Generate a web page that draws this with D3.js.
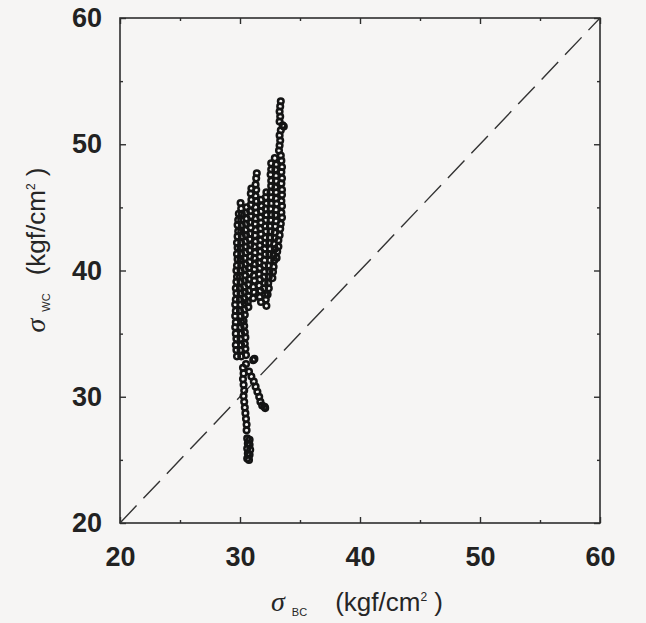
<!DOCTYPE html>
<html>
<head>
<meta charset="utf-8">
<script src="https://cdn.jsdelivr.net/npm/d3@7"></script>
<style>
	html, body { margin: 0; padding: 0; background: #f6f5f4; }
	svg { display: block; }
	.tick-label { font-family: "Liberation Sans", Arial, sans-serif; font-weight: bold; fill: #222; }
	.axis-title { font-family: "Liberation Sans", Arial, sans-serif; fill: #262626; }
</style>
</head>
<body>
<script>

	// ejes
	const majorTicks = [20, 30, 40, 50, 60];
	const minorTicks = [25, 35, 45, 55];
	const diagonal = [[20, 20], [60, 60]];

	// puntos [sigma BC, sigma WC], por zonas de la nube
	const topStalk = [
		[33.4, 53.4], [33.35, 53.0], [33.3, 52.6], [33.35, 52.2], [33.3, 51.8], [33.55, 51.5],
		[33.65, 51.4], [33.4, 51.1], [33.3, 50.7], [33.35, 50.3], [33.3, 49.9], [33.25, 49.5]
	];

	const rightBody = [
		[33.4, 49.1], [33.45, 48.7], [33.5, 48.2], [33.45, 47.8], [33.5, 47.3], [33.45, 46.9],
		[33.5, 46.4], [33.5, 46.0], [33.45, 45.5], [33.5, 45.1], [33.45, 44.6], [33.5, 44.2],
		[33.4, 43.7], [33.35, 43.3], [33.3, 42.8], [33.2, 42.4], [33.2, 41.9], [33.1, 41.5], [33.05, 41.0],
		[32.9, 48.9], [33.0, 48.4], [32.95, 48.0], [33.0, 47.5], [33.0, 47.1], [32.95, 46.6],
		[33.0, 46.2], [33.0, 45.7], [33.05, 45.3], [33.0, 44.8], [32.95, 44.4], [33.0, 43.9],
		[32.95, 43.5], [32.9, 43.0], [32.9, 42.6], [32.85, 42.1], [32.9, 41.7], [32.8, 41.2],
		[32.85, 40.8], [32.8, 40.3], [32.75, 39.9], [32.7, 39.4],
		[32.6, 48.5], [32.6, 48.0], [32.55, 47.6], [32.6, 47.1], [32.6, 46.7], [32.55, 46.2],
		[32.6, 45.8], [32.6, 45.3], [32.55, 44.9], [32.6, 44.4], [32.55, 44.0], [32.5, 43.5],
		[32.55, 43.1], [32.5, 42.6], [32.45, 42.2], [32.5, 41.7], [32.45, 41.3], [32.5, 40.8],
		[32.4, 40.4], [32.45, 39.9], [32.4, 39.5], [32.35, 39.0], [32.4, 38.6], [32.3, 38.1],
		[32.2, 46.2], [32.15, 45.8], [32.2, 45.3], [32.15, 44.9], [32.2, 44.4], [32.15, 44.0],
		[32.1, 43.5], [32.15, 43.1], [32.1, 42.6], [32.1, 42.2], [32.05, 41.7], [32.1, 41.3],
		[32.05, 40.8], [32.0, 40.4], [32.05, 39.9], [32.0, 39.5], [32.05, 39.0], [32.0, 38.6],
		[32.1, 38.1], [32.15, 37.7], [32.2, 37.2]
	];

	const middleBody = [
		[31.75, 45.6], [31.8, 45.1], [31.75, 44.7], [31.7, 44.2], [31.75, 43.8], [31.7, 43.3],
		[31.75, 42.9], [31.7, 42.4], [31.65, 42.0], [31.7, 41.5], [31.65, 41.1], [31.6, 40.6],
		[31.65, 40.2], [31.6, 39.7], [31.65, 39.3], [31.6, 38.8], [31.7, 38.4], [31.65, 37.9], [31.75, 37.5],
		[31.4, 47.7], [31.35, 47.3], [31.3, 46.8], [31.35, 46.4], [31.3, 45.9], [31.35, 45.5],
		[31.3, 45.0], [31.35, 44.6], [31.3, 44.1], [31.25, 43.7], [31.3, 43.2], [31.25, 42.8],
		[31.3, 42.3], [31.2, 41.9], [31.25, 41.4], [31.2, 41.0], [31.25, 40.5], [31.2, 40.1],
		[31.15, 39.6], [31.2, 39.2], [31.1, 38.7], [31.15, 38.3], [31.1, 37.8],
		[30.95, 46.5], [30.9, 46.1], [30.95, 45.6], [30.9, 45.2], [30.85, 44.7], [30.9, 44.3],
		[30.85, 43.8], [30.9, 43.4], [30.85, 42.9], [30.8, 42.5], [30.85, 42.0], [30.8, 41.6],
		[30.85, 41.1], [30.8, 40.7], [30.75, 40.2], [30.8, 39.8], [30.75, 39.3], [30.7, 38.9],
		[30.75, 38.4], [30.7, 38.0], [30.65, 37.5], [30.7, 37.1]
	];

	const leftBody = [
		[30.55, 45.0], [30.5, 44.6], [30.55, 44.1], [30.5, 43.7], [30.45, 43.2], [30.5, 42.8],
		[30.45, 42.3], [30.5, 41.9], [30.45, 41.4], [30.4, 41.0], [30.45, 40.5], [30.4, 40.1],
		[30.45, 39.6], [30.4, 39.2], [30.35, 38.7], [30.4, 38.3], [30.35, 37.8], [30.4, 37.4],
		[30.35, 36.9], [30.4, 36.5], [30.3, 36.0], [30.35, 35.6], [30.4, 35.1], [30.45, 34.7],
		[30.4, 34.2], [30.45, 33.8], [30.5, 33.3],
		[30.05, 45.35], [30.1, 44.9], [30.15, 44.5], [30.1, 44.0], [30.15, 43.6], [30.1, 43.1],
		[30.15, 42.7], [30.1, 42.2], [30.05, 41.8], [30.1, 41.3], [30.05, 40.9], [30.1, 40.4],
		[30.05, 40.0], [30.0, 39.5], [30.05, 39.1], [30.0, 38.6], [30.05, 38.2], [30.0, 37.7],
		[30.05, 37.3], [30.0, 36.8], [30.05, 36.4], [30.1, 35.9], [30.05, 35.5], [30.1, 35.0],
		[30.05, 34.6], [30.1, 34.1], [30.05, 33.7], [30.1, 33.2],
		[29.9, 44.5], [29.85, 44.0], [29.8, 43.6], [29.85, 43.1], [29.8, 42.7], [29.75, 42.2],
		[29.8, 41.8], [29.75, 41.3], [29.8, 40.9], [29.75, 40.4], [29.7, 40.0], [29.75, 39.5],
		[29.7, 39.1], [29.65, 38.6], [29.7, 38.2], [29.65, 37.7], [29.6, 37.3], [29.65, 36.8],
		[29.6, 36.4], [29.65, 35.9], [29.6, 35.5], [29.65, 35.0], [29.7, 34.6], [29.65, 34.1],
		[29.7, 33.7], [29.75, 33.2]
	];

	// cola inferior: dos ramas
	const leftStrand = [
		[30.25, 32.3], [30.3, 31.85], [30.25, 31.4], [30.3, 30.95], [30.35, 30.5], [30.3, 30.05],
		[30.35, 29.6], [30.4, 29.15], [30.45, 28.7], [30.5, 28.25], [30.55, 27.8], [30.55, 27.35],
		[30.6, 26.7], [30.65, 26.3], [30.6, 25.9], [30.65, 25.5], [30.6, 25.1],
		[30.8, 26.6], [30.8, 26.2], [30.85, 25.8], [30.8, 25.4], [30.75, 25.0]
	];

	const rightStrand = [
		[31.1, 32.9], [31.2, 33.0], [30.5, 32.6], [30.75, 32.0], [30.95, 31.6], [31.15, 31.2],
		[31.3, 30.8], [31.45, 30.4], [31.6, 30.0], [31.7, 29.6], [31.85, 29.3], [32.05, 29.2], [32.1, 29.1]
	];

	const width = 646,
		height = 623,
		plot = {left: 120, right: 600, top: 18, bottom: 523};

	const svg = d3.select("body").append("svg")
		.attr("width", width)
		.attr("height", height);

	svg.append("rect")
		.attr("width", width)
		.attr("height", height)
		.attr("fill", "#f6f5f4");

	const x = d3.scaleLinear().domain([20, 60]).range([plot.left, plot.right]),
		y = d3.scaleLinear().domain([20, 60]).range([plot.bottom, plot.top]);

	const axisColor = "#2e2e2e";

	// ejes con marcas hacia dentro
	svg.append("g")
		.attr("transform", "translate(0," + plot.bottom + ")")
		.call(d3.axisBottom(x).tickValues(majorTicks).tickSize(-6).tickPadding(24).tickFormat(d3.format("d")));

	svg.append("g")
		.attr("transform", "translate(" + plot.left + ",0)")
		.call(d3.axisLeft(y).tickValues(majorTicks).tickSize(-6).tickPadding(18).tickFormat(d3.format("d")));

	svg.append("g")
		.attr("transform", "translate(0," + plot.top + ")")
		.call(d3.axisTop(x).tickValues(majorTicks).tickSize(-6).tickFormat(""));

	svg.append("g")
		.attr("transform", "translate(" + plot.right + ",0)")
		.call(d3.axisRight(y).tickValues(majorTicks).tickSize(-6).tickFormat(""));

	// marcas menores
	svg.append("g")
		.attr("transform", "translate(0," + plot.bottom + ")")
		.call(d3.axisBottom(x).tickValues(minorTicks).tickSize(-3).tickFormat(""));
	svg.append("g")
		.attr("transform", "translate(0," + plot.top + ")")
		.call(d3.axisTop(x).tickValues(minorTicks).tickSize(-3).tickFormat(""));
	svg.append("g")
		.attr("transform", "translate(" + plot.left + ",0)")
		.call(d3.axisLeft(y).tickValues(minorTicks).tickSize(-3).tickFormat(""));
	svg.append("g")
		.attr("transform", "translate(" + plot.right + ",0)")
		.call(d3.axisRight(y).tickValues(minorTicks).tickSize(-3).tickFormat(""));

	svg.selectAll(".domain").remove();
	svg.selectAll(".tick line")
		.attr("stroke", axisColor)
		.attr("stroke-width", 1.4);

	svg.selectAll(".tick text")
		.attr("class", "tick-label")
		.attr("font-size", 27);

	// marco
	svg.append("rect")
		.attr("x", plot.left)
		.attr("y", plot.top)
		.attr("width", plot.right - plot.left)
		.attr("height", plot.bottom - plot.top)
		.attr("fill", "none")
		.attr("stroke", axisColor)
		.attr("stroke-width", 1.6);

	// recta 1:1
	svg.append("path")
		.datum(diagonal)
		.attr("d", d3.line().x(function(d) { return x(d[0]); }).y(function(d) { return y(d[1]); }))
		.attr("fill", "none")
		.attr("stroke", "#333")
		.attr("stroke-width", 1.4)
		.attr("stroke-dasharray", "24,10");

	const points = [].concat(topStalk, rightBody, middleBody, leftBody, leftStrand, rightStrand);

	svg.append("g")
		.selectAll("circle")
		.data(points)
		.enter().append("circle")
			.attr("cx", function(d) { return x(d[0]); })
			.attr("cy", function(d) { return y(d[1]); })
			.attr("r", 2.8)
			.attr("fill", "none")
			.attr("stroke", "#141414")
			.attr("stroke-width", 2.5);

	// títulos de ejes
	const xTitle = svg.append("text")
		.attr("class", "axis-title")
		.attr("x", 357)
		.attr("y", 611)
		.attr("text-anchor", "middle")
		.attr("font-size", 26);
	xTitle.append("tspan").attr("font-family", "Liberation Serif, serif").attr("font-style", "italic").attr("font-size", 28).text("σ");
	xTitle.append("tspan").attr("font-size", 11).attr("dx", 7).attr("dy", 5).text("BC");
	xTitle.append("tspan").attr("dx", 28).attr("dy", -5).text("(kgf/cm");
	xTitle.append("tspan").attr("font-size", 12).attr("dy", -10).text("2");
	xTitle.append("tspan").attr("dy", 10).text(" )");

	const yTitle = svg.append("text")
		.attr("class", "axis-title")
		.attr("transform", "translate(45,250) rotate(-90)")
		.attr("text-anchor", "middle")
		.attr("font-size", 26);
	yTitle.append("tspan").attr("font-family", "Liberation Serif, serif").attr("font-style", "italic").attr("font-size", 28).text("σ");
	yTitle.append("tspan").attr("font-size", 11).attr("dx", 7).attr("dy", 5).text("WC");
	yTitle.append("tspan").attr("dx", 18).attr("dy", -5).text("(kgf/cm");
	yTitle.append("tspan").attr("font-size", 12).attr("dy", -10).text("2");
	yTitle.append("tspan").attr("dy", 10).text(" )");

</script>
</body>
</html>
